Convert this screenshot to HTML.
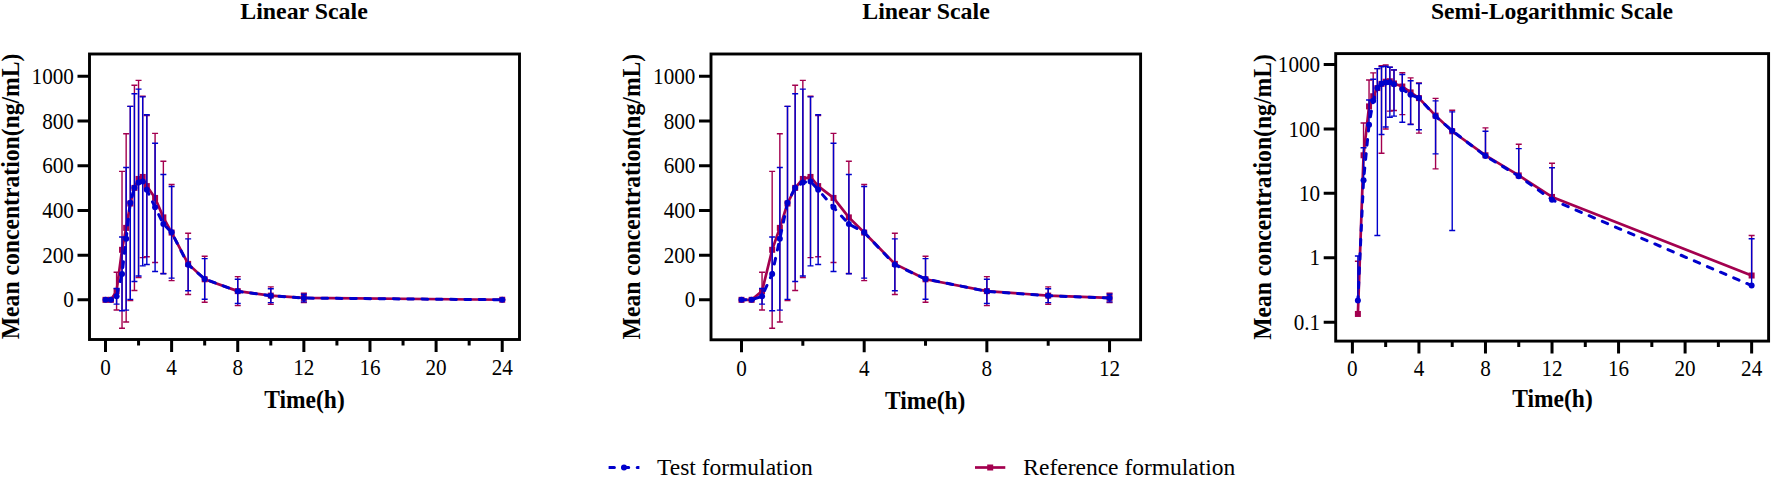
<!DOCTYPE html>
<html><head><meta charset="utf-8"><title>Mean concentration-time profiles</title>
<style>html,body{margin:0;padding:0;background:#fff}svg{display:block}text{fill:#000}</style></head>
<body><svg width="1772" height="478" viewBox="0 0 1772 478">
<rect width="1772" height="478" fill="#fff"/>
<path d="M110.95 299.65V299.99M107.95 299.65h6M107.95 299.99h6" stroke="#a3004f" stroke-width="1.4" fill="none"/>
<path d="M116.58 272.25V310.02M113.58 272.25h6M113.58 310.02h6" stroke="#a3004f" stroke-width="1.4" fill="none"/>
<path d="M122.03 171.34V328.23M119.03 171.34h6M119.03 328.23h6" stroke="#a3004f" stroke-width="1.4" fill="none"/>
<path d="M126.16 133.79V321.98M123.16 133.79h6M123.16 321.98h6" stroke="#a3004f" stroke-width="1.4" fill="none"/>
<path d="M130.30 106.41V300.63M127.30 106.41h6M127.30 300.63h6" stroke="#a3004f" stroke-width="1.4" fill="none"/>
<path d="M134.43 85.29V290.46M131.43 85.29h6M131.43 290.46h6" stroke="#a3004f" stroke-width="1.4" fill="none"/>
<path d="M138.56 80.37V277.50M135.56 80.37h6M135.56 277.50h6" stroke="#a3004f" stroke-width="1.4" fill="none"/>
<path d="M142.69 96.24V257.61M139.69 96.24h6M139.69 257.61h6" stroke="#a3004f" stroke-width="1.4" fill="none"/>
<path d="M146.82 115.46V256.71M143.82 115.46h6M143.82 256.71h6" stroke="#a3004f" stroke-width="1.4" fill="none"/>
<path d="M155.09 133.34V262.53M152.09 133.34h6M152.09 262.53h6" stroke="#a3004f" stroke-width="1.4" fill="none"/>
<path d="M163.36 161.28V273.48M160.36 161.28h6M160.36 273.48h6" stroke="#a3004f" stroke-width="1.4" fill="none"/>
<path d="M171.62 184.52V280.63M168.62 184.52h6M168.62 280.63h6" stroke="#a3004f" stroke-width="1.4" fill="none"/>
<path d="M188.15 233.25V294.49M185.15 233.25h6M185.15 294.49h6" stroke="#a3004f" stroke-width="1.4" fill="none"/>
<path d="M204.68 256.27V302.31M201.68 256.27h6M201.68 302.31h6" stroke="#a3004f" stroke-width="1.4" fill="none"/>
<path d="M237.74 276.61V305.66M234.74 276.61h6M234.74 305.66h6" stroke="#a3004f" stroke-width="1.4" fill="none"/>
<path d="M270.80 286.89V304.32M267.80 286.89h6M267.80 304.32h6" stroke="#a3004f" stroke-width="1.4" fill="none"/>
<path d="M303.86 293.30V302.46M300.86 293.30h6M300.86 302.46h6" stroke="#a3004f" stroke-width="1.4" fill="none"/>
<path d="M502.22 299.36V300.11M499.22 299.36h6M499.22 300.11h6" stroke="#a3004f" stroke-width="1.4" fill="none"/>
<polyline points="105.50,299.85 110.95,299.82 116.58,291.13 122.03,249.79 126.16,227.88 130.30,203.52 134.43,187.88 138.56,178.94 142.69,176.93 146.82,186.09 155.09,197.93 163.36,217.38 171.62,232.58 188.15,263.87 204.68,279.29 237.74,291.13 270.80,295.60 303.86,297.88 502.22,299.73" fill="none" stroke="#a3004f" stroke-width="2.7" stroke-linejoin="round"/>
<rect x="102.50" y="296.85" width="6" height="6" fill="#a3004f"/>
<rect x="107.95" y="296.82" width="6" height="6" fill="#a3004f"/>
<rect x="113.58" y="288.13" width="6" height="6" fill="#a3004f"/>
<rect x="119.03" y="246.79" width="6" height="6" fill="#a3004f"/>
<rect x="123.16" y="224.88" width="6" height="6" fill="#a3004f"/>
<rect x="127.30" y="200.52" width="6" height="6" fill="#a3004f"/>
<rect x="131.43" y="184.88" width="6" height="6" fill="#a3004f"/>
<rect x="135.56" y="175.94" width="6" height="6" fill="#a3004f"/>
<rect x="139.69" y="173.93" width="6" height="6" fill="#a3004f"/>
<rect x="143.82" y="183.09" width="6" height="6" fill="#a3004f"/>
<rect x="152.09" y="194.93" width="6" height="6" fill="#a3004f"/>
<rect x="160.36" y="214.38" width="6" height="6" fill="#a3004f"/>
<rect x="168.62" y="229.58" width="6" height="6" fill="#a3004f"/>
<rect x="185.15" y="260.87" width="6" height="6" fill="#a3004f"/>
<rect x="201.68" y="276.29" width="6" height="6" fill="#a3004f"/>
<rect x="234.74" y="288.13" width="6" height="6" fill="#a3004f"/>
<rect x="267.80" y="292.60" width="6" height="6" fill="#a3004f"/>
<rect x="300.86" y="294.88" width="6" height="6" fill="#a3004f"/>
<rect x="499.22" y="296.73" width="6" height="6" fill="#a3004f"/>
<path d="M110.95 299.61V299.99M107.95 299.61h6M107.95 299.99h6" stroke="#0000cc" stroke-width="1.4" fill="none"/>
<path d="M116.58 288.45V304.10M113.58 288.45h6M113.58 304.10h6" stroke="#0000cc" stroke-width="1.4" fill="none"/>
<path d="M122.03 237.05V310.80M119.03 237.05h6M119.03 310.80h6" stroke="#0000cc" stroke-width="1.4" fill="none"/>
<path d="M126.16 167.54V310.13M123.16 167.54h6M123.16 310.13h6" stroke="#0000cc" stroke-width="1.4" fill="none"/>
<path d="M130.30 106.35V299.35M127.30 106.35h6M127.30 299.35h6" stroke="#0000cc" stroke-width="1.4" fill="none"/>
<path d="M134.43 93.78V281.52M131.43 93.78h6M131.43 281.52h6" stroke="#0000cc" stroke-width="1.4" fill="none"/>
<path d="M138.56 89.09V275.94M135.56 89.09h6M135.56 275.94h6" stroke="#0000cc" stroke-width="1.4" fill="none"/>
<path d="M142.69 96.91V265.88M139.69 96.91h6M139.69 265.88h6" stroke="#0000cc" stroke-width="1.4" fill="none"/>
<path d="M146.82 114.79V264.54M143.82 114.79h6M143.82 264.54h6" stroke="#0000cc" stroke-width="1.4" fill="none"/>
<path d="M155.09 143.18V271.47M152.09 143.18h6M152.09 271.47h6" stroke="#0000cc" stroke-width="1.4" fill="none"/>
<path d="M163.36 174.47V273.70M160.36 174.47h6M160.36 273.70h6" stroke="#0000cc" stroke-width="1.4" fill="none"/>
<path d="M171.62 186.54V278.17M168.62 186.54h6M168.62 278.17h6" stroke="#0000cc" stroke-width="1.4" fill="none"/>
<path d="M188.15 238.83V290.69M185.15 238.83h6M185.15 290.69h6" stroke="#0000cc" stroke-width="1.4" fill="none"/>
<path d="M204.68 258.65V299.26M201.68 258.65h6M201.68 299.26h6" stroke="#0000cc" stroke-width="1.4" fill="none"/>
<path d="M237.74 279.29V303.43M234.74 279.29h6M234.74 303.43h6" stroke="#0000cc" stroke-width="1.4" fill="none"/>
<path d="M270.80 288.79V302.64M267.80 288.79h6M267.80 302.64h6" stroke="#0000cc" stroke-width="1.4" fill="none"/>
<path d="M303.86 294.27V301.87M300.86 294.27h6M300.86 301.87h6" stroke="#0000cc" stroke-width="1.4" fill="none"/>
<path d="M502.22 299.41V300.12M499.22 299.41h6M499.22 300.12h6" stroke="#0000cc" stroke-width="1.4" fill="none"/>
<polyline points="105.50,299.85 110.95,299.80 116.58,296.27 122.03,273.92 126.16,238.83 130.30,202.85 134.43,187.65 138.56,182.51 142.69,181.40 146.82,189.66 155.09,207.32 163.36,224.08 171.62,232.35 188.15,264.76 204.68,278.95 237.74,291.36 270.80,295.72 303.86,298.07 502.22,299.77" fill="none" stroke="#0000cc" stroke-width="3" stroke-dasharray="5.8 8.5" stroke-dashoffset="1.4" stroke-linecap="round" stroke-linejoin="round"/>
<circle cx="105.50" cy="299.85" r="3" fill="#0000cc"/>
<circle cx="110.95" cy="299.80" r="3" fill="#0000cc"/>
<circle cx="116.58" cy="296.27" r="3" fill="#0000cc"/>
<circle cx="122.03" cy="273.92" r="3" fill="#0000cc"/>
<circle cx="126.16" cy="238.83" r="3" fill="#0000cc"/>
<circle cx="130.30" cy="202.85" r="3" fill="#0000cc"/>
<circle cx="134.43" cy="187.65" r="3" fill="#0000cc"/>
<circle cx="138.56" cy="182.51" r="3" fill="#0000cc"/>
<circle cx="142.69" cy="181.40" r="3" fill="#0000cc"/>
<circle cx="146.82" cy="189.66" r="3" fill="#0000cc"/>
<circle cx="155.09" cy="207.32" r="3" fill="#0000cc"/>
<circle cx="163.36" cy="224.08" r="3" fill="#0000cc"/>
<circle cx="171.62" cy="232.35" r="3" fill="#0000cc"/>
<circle cx="188.15" cy="264.76" r="3" fill="#0000cc"/>
<circle cx="204.68" cy="278.95" r="3" fill="#0000cc"/>
<circle cx="237.74" cy="291.36" r="3" fill="#0000cc"/>
<circle cx="270.80" cy="295.72" r="3" fill="#0000cc"/>
<circle cx="303.86" cy="298.07" r="3" fill="#0000cc"/>
<circle cx="502.22" cy="299.77" r="3" fill="#0000cc"/>
<rect x="89.5" y="54" width="430.00" height="285.50" fill="none" stroke="#000" stroke-width="2.9"/>
<path d="M105.50 339.5v12.4M171.62 339.5v12.4M237.74 339.5v12.4M303.86 339.5v12.4M369.98 339.5v12.4M436.10 339.5v12.4M502.22 339.5v12.4M138.56 339.5v6M204.68 339.5v6M270.80 339.5v6M336.92 339.5v6M403.04 339.5v6M469.16 339.5v6M89.5 299.85h-12M89.5 255.15h-12M89.5 210.45h-12M89.5 165.75h-12M89.5 121.05h-12M89.5 76.35h-12" stroke="#000" stroke-width="3" fill="none"/>
<text transform="translate(105.50 375.20) scale(0.9 1)" font-size="23.5" text-anchor="middle" font-family="Liberation Serif, serif">0</text>
<text transform="translate(171.62 375.20) scale(0.9 1)" font-size="23.5" text-anchor="middle" font-family="Liberation Serif, serif">4</text>
<text transform="translate(237.74 375.20) scale(0.9 1)" font-size="23.5" text-anchor="middle" font-family="Liberation Serif, serif">8</text>
<text transform="translate(303.86 375.20) scale(0.9 1)" font-size="23.5" text-anchor="middle" font-family="Liberation Serif, serif">12</text>
<text transform="translate(369.98 375.20) scale(0.9 1)" font-size="23.5" text-anchor="middle" font-family="Liberation Serif, serif">16</text>
<text transform="translate(436.10 375.20) scale(0.9 1)" font-size="23.5" text-anchor="middle" font-family="Liberation Serif, serif">20</text>
<text transform="translate(502.22 375.20) scale(0.9 1)" font-size="23.5" text-anchor="middle" font-family="Liberation Serif, serif">24</text>
<text transform="translate(73.90 307.45) scale(0.9 1)" font-size="23.5" text-anchor="end" font-family="Liberation Serif, serif">0</text>
<text transform="translate(73.90 262.75) scale(0.9 1)" font-size="23.5" text-anchor="end" font-family="Liberation Serif, serif">200</text>
<text transform="translate(73.90 218.05) scale(0.9 1)" font-size="23.5" text-anchor="end" font-family="Liberation Serif, serif">400</text>
<text transform="translate(73.90 173.35) scale(0.9 1)" font-size="23.5" text-anchor="end" font-family="Liberation Serif, serif">600</text>
<text transform="translate(73.90 128.65) scale(0.9 1)" font-size="23.5" text-anchor="end" font-family="Liberation Serif, serif">800</text>
<text transform="translate(73.90 83.95) scale(0.9 1)" font-size="23.5" text-anchor="end" font-family="Liberation Serif, serif">1000</text>
<text transform="translate(304.00 18.70) scale(0.995 1)" font-size="24" text-anchor="middle" font-weight="bold" font-family="Liberation Serif, serif">Linear Scale</text>
<text transform="translate(304.50 408.40) scale(0.94 1)" font-size="25" text-anchor="middle" font-weight="bold" font-family="Liberation Serif, serif">Time(h)</text>
<path d="M751.62 299.65V299.99M748.62 299.65h6M748.62 299.99h6" stroke="#a3004f" stroke-width="1.4" fill="none"/>
<path d="M762.05 272.25V310.02M759.05 272.25h6M759.05 310.02h6" stroke="#a3004f" stroke-width="1.4" fill="none"/>
<path d="M772.17 171.34V328.23M769.17 171.34h6M769.17 328.23h6" stroke="#a3004f" stroke-width="1.4" fill="none"/>
<path d="M779.84 133.79V321.98M776.84 133.79h6M776.84 321.98h6" stroke="#a3004f" stroke-width="1.4" fill="none"/>
<path d="M787.50 106.41V300.63M784.50 106.41h6M784.50 300.63h6" stroke="#a3004f" stroke-width="1.4" fill="none"/>
<path d="M795.17 85.29V290.46M792.17 85.29h6M792.17 290.46h6" stroke="#a3004f" stroke-width="1.4" fill="none"/>
<path d="M802.84 80.37V277.50M799.84 80.37h6M799.84 277.50h6" stroke="#a3004f" stroke-width="1.4" fill="none"/>
<path d="M810.51 96.24V257.61M807.51 96.24h6M807.51 257.61h6" stroke="#a3004f" stroke-width="1.4" fill="none"/>
<path d="M818.17 115.46V256.71M815.17 115.46h6M815.17 256.71h6" stroke="#a3004f" stroke-width="1.4" fill="none"/>
<path d="M833.51 133.34V262.53M830.51 133.34h6M830.51 262.53h6" stroke="#a3004f" stroke-width="1.4" fill="none"/>
<path d="M848.85 161.28V273.48M845.85 161.28h6M845.85 273.48h6" stroke="#a3004f" stroke-width="1.4" fill="none"/>
<path d="M864.18 184.52V280.63M861.18 184.52h6M861.18 280.63h6" stroke="#a3004f" stroke-width="1.4" fill="none"/>
<path d="M894.85 233.25V294.49M891.85 233.25h6M891.85 294.49h6" stroke="#a3004f" stroke-width="1.4" fill="none"/>
<path d="M925.52 256.27V302.31M922.52 256.27h6M922.52 302.31h6" stroke="#a3004f" stroke-width="1.4" fill="none"/>
<path d="M986.86 276.61V305.66M983.86 276.61h6M983.86 305.66h6" stroke="#a3004f" stroke-width="1.4" fill="none"/>
<path d="M1048.20 286.89V304.32M1045.20 286.89h6M1045.20 304.32h6" stroke="#a3004f" stroke-width="1.4" fill="none"/>
<path d="M1109.54 293.30V302.46M1106.54 293.30h6M1106.54 302.46h6" stroke="#a3004f" stroke-width="1.4" fill="none"/>
<polyline points="741.50,299.85 751.62,299.82 762.05,291.13 772.17,249.79 779.84,227.88 787.50,203.52 795.17,187.88 802.84,178.94 810.51,176.93 818.17,186.09 833.51,197.93 848.85,217.38 864.18,232.58 894.85,263.87 925.52,279.29 986.86,291.13 1048.20,295.60 1109.54,297.88" fill="none" stroke="#a3004f" stroke-width="2.7" stroke-linejoin="round"/>
<rect x="738.50" y="296.85" width="6" height="6" fill="#a3004f"/>
<rect x="748.62" y="296.82" width="6" height="6" fill="#a3004f"/>
<rect x="759.05" y="288.13" width="6" height="6" fill="#a3004f"/>
<rect x="769.17" y="246.79" width="6" height="6" fill="#a3004f"/>
<rect x="776.84" y="224.88" width="6" height="6" fill="#a3004f"/>
<rect x="784.50" y="200.52" width="6" height="6" fill="#a3004f"/>
<rect x="792.17" y="184.88" width="6" height="6" fill="#a3004f"/>
<rect x="799.84" y="175.94" width="6" height="6" fill="#a3004f"/>
<rect x="807.51" y="173.93" width="6" height="6" fill="#a3004f"/>
<rect x="815.17" y="183.09" width="6" height="6" fill="#a3004f"/>
<rect x="830.51" y="194.93" width="6" height="6" fill="#a3004f"/>
<rect x="845.85" y="214.38" width="6" height="6" fill="#a3004f"/>
<rect x="861.18" y="229.58" width="6" height="6" fill="#a3004f"/>
<rect x="891.85" y="260.87" width="6" height="6" fill="#a3004f"/>
<rect x="922.52" y="276.29" width="6" height="6" fill="#a3004f"/>
<rect x="983.86" y="288.13" width="6" height="6" fill="#a3004f"/>
<rect x="1045.20" y="292.60" width="6" height="6" fill="#a3004f"/>
<rect x="1106.54" y="294.88" width="6" height="6" fill="#a3004f"/>
<path d="M751.62 299.61V299.99M748.62 299.61h6M748.62 299.99h6" stroke="#0000cc" stroke-width="1.4" fill="none"/>
<path d="M762.05 288.45V304.10M759.05 288.45h6M759.05 304.10h6" stroke="#0000cc" stroke-width="1.4" fill="none"/>
<path d="M772.17 237.05V310.80M769.17 237.05h6M769.17 310.80h6" stroke="#0000cc" stroke-width="1.4" fill="none"/>
<path d="M779.84 167.54V310.13M776.84 167.54h6M776.84 310.13h6" stroke="#0000cc" stroke-width="1.4" fill="none"/>
<path d="M787.50 106.35V299.35M784.50 106.35h6M784.50 299.35h6" stroke="#0000cc" stroke-width="1.4" fill="none"/>
<path d="M795.17 93.78V281.52M792.17 93.78h6M792.17 281.52h6" stroke="#0000cc" stroke-width="1.4" fill="none"/>
<path d="M802.84 89.09V275.94M799.84 89.09h6M799.84 275.94h6" stroke="#0000cc" stroke-width="1.4" fill="none"/>
<path d="M810.51 96.91V265.88M807.51 96.91h6M807.51 265.88h6" stroke="#0000cc" stroke-width="1.4" fill="none"/>
<path d="M818.17 114.79V264.54M815.17 114.79h6M815.17 264.54h6" stroke="#0000cc" stroke-width="1.4" fill="none"/>
<path d="M833.51 143.18V271.47M830.51 143.18h6M830.51 271.47h6" stroke="#0000cc" stroke-width="1.4" fill="none"/>
<path d="M848.85 174.47V273.70M845.85 174.47h6M845.85 273.70h6" stroke="#0000cc" stroke-width="1.4" fill="none"/>
<path d="M864.18 186.54V278.17M861.18 186.54h6M861.18 278.17h6" stroke="#0000cc" stroke-width="1.4" fill="none"/>
<path d="M894.85 238.83V290.69M891.85 238.83h6M891.85 290.69h6" stroke="#0000cc" stroke-width="1.4" fill="none"/>
<path d="M925.52 258.65V299.26M922.52 258.65h6M922.52 299.26h6" stroke="#0000cc" stroke-width="1.4" fill="none"/>
<path d="M986.86 279.29V303.43M983.86 279.29h6M983.86 303.43h6" stroke="#0000cc" stroke-width="1.4" fill="none"/>
<path d="M1048.20 288.79V302.64M1045.20 288.79h6M1045.20 302.64h6" stroke="#0000cc" stroke-width="1.4" fill="none"/>
<path d="M1109.54 294.27V301.87M1106.54 294.27h6M1106.54 301.87h6" stroke="#0000cc" stroke-width="1.4" fill="none"/>
<polyline points="741.50,299.85 751.62,299.80 762.05,296.27 772.17,273.92 779.84,238.83 787.50,202.85 795.17,187.65 802.84,182.51 810.51,181.40 818.17,189.66 833.51,207.32 848.85,224.08 864.18,232.35 894.85,264.76 925.52,278.95 986.86,291.36 1048.20,295.72 1109.54,298.07" fill="none" stroke="#0000cc" stroke-width="3" stroke-dasharray="5.8 8.5" stroke-dashoffset="1.4" stroke-linecap="round" stroke-linejoin="round"/>
<circle cx="741.50" cy="299.85" r="3" fill="#0000cc"/>
<circle cx="751.62" cy="299.80" r="3" fill="#0000cc"/>
<circle cx="762.05" cy="296.27" r="3" fill="#0000cc"/>
<circle cx="772.17" cy="273.92" r="3" fill="#0000cc"/>
<circle cx="779.84" cy="238.83" r="3" fill="#0000cc"/>
<circle cx="787.50" cy="202.85" r="3" fill="#0000cc"/>
<circle cx="795.17" cy="187.65" r="3" fill="#0000cc"/>
<circle cx="802.84" cy="182.51" r="3" fill="#0000cc"/>
<circle cx="810.51" cy="181.40" r="3" fill="#0000cc"/>
<circle cx="818.17" cy="189.66" r="3" fill="#0000cc"/>
<circle cx="833.51" cy="207.32" r="3" fill="#0000cc"/>
<circle cx="848.85" cy="224.08" r="3" fill="#0000cc"/>
<circle cx="864.18" cy="232.35" r="3" fill="#0000cc"/>
<circle cx="894.85" cy="264.76" r="3" fill="#0000cc"/>
<circle cx="925.52" cy="278.95" r="3" fill="#0000cc"/>
<circle cx="986.86" cy="291.36" r="3" fill="#0000cc"/>
<circle cx="1048.20" cy="295.72" r="3" fill="#0000cc"/>
<circle cx="1109.54" cy="298.07" r="3" fill="#0000cc"/>
<rect x="711" y="54" width="429.60" height="285.80" fill="none" stroke="#000" stroke-width="2.9"/>
<path d="M741.50 339.8v12.4M864.18 339.8v12.4M986.86 339.8v12.4M1109.54 339.8v12.4M802.84 339.8v6M925.52 339.8v6M1048.20 339.8v6M711 299.85h-12M711 255.15h-12M711 210.45h-12M711 165.75h-12M711 121.05h-12M711 76.35h-12" stroke="#000" stroke-width="3" fill="none"/>
<text transform="translate(741.50 375.70) scale(0.9 1)" font-size="23.5" text-anchor="middle" font-family="Liberation Serif, serif">0</text>
<text transform="translate(864.18 375.70) scale(0.9 1)" font-size="23.5" text-anchor="middle" font-family="Liberation Serif, serif">4</text>
<text transform="translate(986.86 375.70) scale(0.9 1)" font-size="23.5" text-anchor="middle" font-family="Liberation Serif, serif">8</text>
<text transform="translate(1109.54 375.70) scale(0.9 1)" font-size="23.5" text-anchor="middle" font-family="Liberation Serif, serif">12</text>
<text transform="translate(695.40 307.45) scale(0.9 1)" font-size="23.5" text-anchor="end" font-family="Liberation Serif, serif">0</text>
<text transform="translate(695.40 262.75) scale(0.9 1)" font-size="23.5" text-anchor="end" font-family="Liberation Serif, serif">200</text>
<text transform="translate(695.40 218.05) scale(0.9 1)" font-size="23.5" text-anchor="end" font-family="Liberation Serif, serif">400</text>
<text transform="translate(695.40 173.35) scale(0.9 1)" font-size="23.5" text-anchor="end" font-family="Liberation Serif, serif">600</text>
<text transform="translate(695.40 128.65) scale(0.9 1)" font-size="23.5" text-anchor="end" font-family="Liberation Serif, serif">800</text>
<text transform="translate(695.40 83.95) scale(0.9 1)" font-size="23.5" text-anchor="end" font-family="Liberation Serif, serif">1000</text>
<text transform="translate(926.00 18.70) scale(0.995 1)" font-size="24" text-anchor="middle" font-weight="bold" font-family="Liberation Serif, serif">Linear Scale</text>
<text transform="translate(925.20 409.10) scale(0.94 1)" font-size="25" text-anchor="middle" font-weight="bold" font-family="Liberation Serif, serif">Time(h)</text>
<path d="M1357.89 261.20V313.96M1354.89 261.20h6" stroke="#a3004f" stroke-width="1.4" fill="none"/>
<path d="M1363.55 123.05V155.29M1360.55 123.05h6" stroke="#a3004f" stroke-width="1.4" fill="none"/>
<path d="M1369.04 80.03V106.39M1366.04 80.03h6" stroke="#a3004f" stroke-width="1.4" fill="none"/>
<path d="M1373.19 72.86V96.24M1370.19 72.86h6" stroke="#a3004f" stroke-width="1.4" fill="none"/>
<path d="M1377.35 68.59V88.09M1374.35 68.59h6" stroke="#a3004f" stroke-width="1.4" fill="none"/>
<path d="M1381.51 65.69V153.21M1378.51 65.69h6M1378.51 153.21h6" stroke="#a3004f" stroke-width="1.4" fill="none"/>
<path d="M1385.67 65.06V128.95M1382.67 65.06h6M1382.67 128.95h6" stroke="#a3004f" stroke-width="1.4" fill="none"/>
<path d="M1389.83 67.16V111.15M1386.83 67.16h6M1386.83 111.15h6" stroke="#a3004f" stroke-width="1.4" fill="none"/>
<path d="M1393.99 69.93V110.56M1390.99 69.93h6M1390.99 110.56h6" stroke="#a3004f" stroke-width="1.4" fill="none"/>
<path d="M1402.31 72.78V114.61M1399.31 72.78h6M1399.31 114.61h6" stroke="#a3004f" stroke-width="1.4" fill="none"/>
<path d="M1410.62 77.92V124.32M1407.62 77.92h6M1407.62 124.32h6" stroke="#a3004f" stroke-width="1.4" fill="none"/>
<path d="M1418.94 83.06V133.17M1415.94 83.06h6M1415.94 133.17h6" stroke="#a3004f" stroke-width="1.4" fill="none"/>
<path d="M1435.58 98.41V168.86M1432.58 98.41h6M1432.58 168.86h6" stroke="#a3004f" stroke-width="1.4" fill="none"/>
<path d="M1452.21 110.27V131.28M1449.21 110.27h6" stroke="#a3004f" stroke-width="1.4" fill="none"/>
<path d="M1485.48 127.85V155.29M1482.48 127.85h6" stroke="#a3004f" stroke-width="1.4" fill="none"/>
<path d="M1518.75 144.19V175.40M1515.75 144.19h6" stroke="#a3004f" stroke-width="1.4" fill="none"/>
<path d="M1552.02 163.28V196.93M1549.02 163.28h6" stroke="#a3004f" stroke-width="1.4" fill="none"/>
<path d="M1751.64 235.57V275.51M1748.64 235.57h6" stroke="#a3004f" stroke-width="1.4" fill="none"/>
<polyline points="1357.89,313.96 1363.55,155.29 1369.04,106.39 1373.19,96.24 1377.35,88.09 1381.51,83.88 1385.67,81.73 1389.83,81.27 1393.99,83.44 1402.31,86.51 1410.62,92.43 1418.94,98.13 1435.58,115.63 1452.21,131.28 1485.48,155.29 1518.75,175.40 1552.02,196.93 1751.64,275.51" fill="none" stroke="#a3004f" stroke-width="2.7" stroke-linejoin="round"/>
<rect x="1354.89" y="310.96" width="6" height="6" fill="#a3004f"/>
<rect x="1360.55" y="152.29" width="6" height="6" fill="#a3004f"/>
<rect x="1366.04" y="103.39" width="6" height="6" fill="#a3004f"/>
<rect x="1370.19" y="93.24" width="6" height="6" fill="#a3004f"/>
<rect x="1374.35" y="85.09" width="6" height="6" fill="#a3004f"/>
<rect x="1378.51" y="80.88" width="6" height="6" fill="#a3004f"/>
<rect x="1382.67" y="78.73" width="6" height="6" fill="#a3004f"/>
<rect x="1386.83" y="78.27" width="6" height="6" fill="#a3004f"/>
<rect x="1390.99" y="80.44" width="6" height="6" fill="#a3004f"/>
<rect x="1399.31" y="83.51" width="6" height="6" fill="#a3004f"/>
<rect x="1407.62" y="89.43" width="6" height="6" fill="#a3004f"/>
<rect x="1415.94" y="95.13" width="6" height="6" fill="#a3004f"/>
<rect x="1432.58" y="112.63" width="6" height="6" fill="#a3004f"/>
<rect x="1449.21" y="128.28" width="6" height="6" fill="#a3004f"/>
<rect x="1482.48" y="152.29" width="6" height="6" fill="#a3004f"/>
<rect x="1515.75" y="172.40" width="6" height="6" fill="#a3004f"/>
<rect x="1549.02" y="193.93" width="6" height="6" fill="#a3004f"/>
<rect x="1748.64" y="272.51" width="6" height="6" fill="#a3004f"/>
<path d="M1357.89 255.96V300.61M1354.89 255.96h6" stroke="#0000cc" stroke-width="1.4" fill="none"/>
<path d="M1363.55 147.78V180.20M1360.55 147.78h6" stroke="#0000cc" stroke-width="1.4" fill="none"/>
<path d="M1369.04 100.05V124.80M1366.04 100.05h6" stroke="#0000cc" stroke-width="1.4" fill="none"/>
<path d="M1373.19 79.21V100.86M1370.19 79.21h6" stroke="#0000cc" stroke-width="1.4" fill="none"/>
<path d="M1377.35 68.58V235.44M1374.35 68.58h6M1374.35 235.44h6" stroke="#0000cc" stroke-width="1.4" fill="none"/>
<path d="M1381.51 66.82V134.50M1378.51 66.82h6M1378.51 134.50h6" stroke="#0000cc" stroke-width="1.4" fill="none"/>
<path d="M1385.67 66.19V127.06M1382.67 66.19h6M1382.67 127.06h6" stroke="#0000cc" stroke-width="1.4" fill="none"/>
<path d="M1389.83 67.25V117.24M1386.83 67.25h6M1386.83 117.24h6" stroke="#0000cc" stroke-width="1.4" fill="none"/>
<path d="M1393.99 69.83V116.16M1390.99 69.83h6M1390.99 116.16h6" stroke="#0000cc" stroke-width="1.4" fill="none"/>
<path d="M1402.31 74.49V122.27M1399.31 74.49h6M1399.31 122.27h6" stroke="#0000cc" stroke-width="1.4" fill="none"/>
<path d="M1410.62 80.72V124.56M1407.62 80.72h6M1407.62 124.56h6" stroke="#0000cc" stroke-width="1.4" fill="none"/>
<path d="M1418.94 83.55V129.80M1415.94 83.55h6M1415.94 129.80h6" stroke="#0000cc" stroke-width="1.4" fill="none"/>
<path d="M1435.58 100.86V153.89M1432.58 100.86h6M1432.58 153.89h6" stroke="#0000cc" stroke-width="1.4" fill="none"/>
<path d="M1452.21 111.84V230.49M1449.21 111.84h6M1449.21 230.49h6" stroke="#0000cc" stroke-width="1.4" fill="none"/>
<path d="M1485.48 131.28V156.01M1482.48 131.28h6" stroke="#0000cc" stroke-width="1.4" fill="none"/>
<path d="M1518.75 148.62V176.14M1515.75 148.62h6" stroke="#0000cc" stroke-width="1.4" fill="none"/>
<path d="M1552.02 167.78V199.77M1549.02 167.78h6" stroke="#0000cc" stroke-width="1.4" fill="none"/>
<path d="M1751.64 238.79V285.56M1748.64 238.79h6" stroke="#0000cc" stroke-width="1.4" fill="none"/>
<polyline points="1357.89,300.61 1363.55,180.20 1369.04,124.80 1373.19,100.86 1377.35,87.90 1381.51,83.82 1385.67,82.57 1389.83,82.31 1393.99,84.33 1402.31,89.22 1410.62,94.81 1418.94,98.04 1435.58,116.33 1452.21,130.83 1485.48,156.01 1518.75,176.14 1552.02,199.77 1751.64,285.56" fill="none" stroke="#0000cc" stroke-width="3" stroke-dasharray="5.8 8.5" stroke-dashoffset="1.6" stroke-linecap="round" stroke-linejoin="round"/>
<circle cx="1357.89" cy="300.61" r="3" fill="#0000cc"/>
<circle cx="1363.55" cy="180.20" r="3" fill="#0000cc"/>
<circle cx="1369.04" cy="124.80" r="3" fill="#0000cc"/>
<circle cx="1373.19" cy="100.86" r="3" fill="#0000cc"/>
<circle cx="1377.35" cy="87.90" r="3" fill="#0000cc"/>
<circle cx="1381.51" cy="83.82" r="3" fill="#0000cc"/>
<circle cx="1385.67" cy="82.57" r="3" fill="#0000cc"/>
<circle cx="1389.83" cy="82.31" r="3" fill="#0000cc"/>
<circle cx="1393.99" cy="84.33" r="3" fill="#0000cc"/>
<circle cx="1402.31" cy="89.22" r="3" fill="#0000cc"/>
<circle cx="1410.62" cy="94.81" r="3" fill="#0000cc"/>
<circle cx="1418.94" cy="98.04" r="3" fill="#0000cc"/>
<circle cx="1435.58" cy="116.33" r="3" fill="#0000cc"/>
<circle cx="1452.21" cy="130.83" r="3" fill="#0000cc"/>
<circle cx="1485.48" cy="156.01" r="3" fill="#0000cc"/>
<circle cx="1518.75" cy="176.14" r="3" fill="#0000cc"/>
<circle cx="1552.02" cy="199.77" r="3" fill="#0000cc"/>
<circle cx="1751.64" cy="285.56" r="3" fill="#0000cc"/>
<rect x="1335.7" y="53.6" width="432.90" height="287.50" fill="none" stroke="#000" stroke-width="2.9"/>
<path d="M1352.40 341.1v12.4M1418.94 341.1v12.4M1485.48 341.1v12.4M1552.02 341.1v12.4M1618.56 341.1v12.4M1685.10 341.1v12.4M1751.64 341.1v12.4M1385.67 341.1v6M1452.21 341.1v6M1518.75 341.1v6M1585.29 341.1v6M1651.83 341.1v6M1718.37 341.1v6M1335.7 322.15h-12M1335.7 257.75h-12M1335.7 193.35h-12M1335.7 128.95h-12M1335.7 64.55h-12" stroke="#000" stroke-width="3" fill="none"/>
<text transform="translate(1352.40 376.30) scale(0.9 1)" font-size="23.5" text-anchor="middle" font-family="Liberation Serif, serif">0</text>
<text transform="translate(1418.94 376.30) scale(0.9 1)" font-size="23.5" text-anchor="middle" font-family="Liberation Serif, serif">4</text>
<text transform="translate(1485.48 376.30) scale(0.9 1)" font-size="23.5" text-anchor="middle" font-family="Liberation Serif, serif">8</text>
<text transform="translate(1552.02 376.30) scale(0.9 1)" font-size="23.5" text-anchor="middle" font-family="Liberation Serif, serif">12</text>
<text transform="translate(1618.56 376.30) scale(0.9 1)" font-size="23.5" text-anchor="middle" font-family="Liberation Serif, serif">16</text>
<text transform="translate(1685.10 376.30) scale(0.9 1)" font-size="23.5" text-anchor="middle" font-family="Liberation Serif, serif">20</text>
<text transform="translate(1751.64 376.30) scale(0.9 1)" font-size="23.5" text-anchor="middle" font-family="Liberation Serif, serif">24</text>
<text transform="translate(1320.10 329.75) scale(0.9 1)" font-size="23.5" text-anchor="end" font-family="Liberation Serif, serif">0.1</text>
<text transform="translate(1320.10 265.35) scale(0.9 1)" font-size="23.5" text-anchor="end" font-family="Liberation Serif, serif">1</text>
<text transform="translate(1320.10 200.95) scale(0.9 1)" font-size="23.5" text-anchor="end" font-family="Liberation Serif, serif">10</text>
<text transform="translate(1320.10 136.55) scale(0.9 1)" font-size="23.5" text-anchor="end" font-family="Liberation Serif, serif">100</text>
<text transform="translate(1320.10 72.15) scale(0.9 1)" font-size="23.5" text-anchor="end" font-family="Liberation Serif, serif">1000</text>
<text transform="translate(1552.00 18.70) scale(0.985 1)" font-size="24" text-anchor="middle" font-weight="bold" font-family="Liberation Serif, serif">Semi-Logarithmic Scale</text>
<text transform="translate(1552.50 407.40) scale(0.94 1)" font-size="25" text-anchor="middle" font-weight="bold" font-family="Liberation Serif, serif">Time(h)</text>
<text transform="translate(18.60 196.40) rotate(-90) scale(0.946 1)" font-size="25.0" text-anchor="middle" font-weight="bold" font-family="Liberation Serif, serif">Mean concentration(ng/mL)</text>
<text transform="translate(640.40 196.60) rotate(-90) scale(0.946 1)" font-size="25.0" text-anchor="middle" font-weight="bold" font-family="Liberation Serif, serif">Mean concentration(ng/mL)</text>
<text transform="translate(1270.70 197.00) rotate(-90) scale(0.946 1)" font-size="25.0" text-anchor="middle" font-weight="bold" font-family="Liberation Serif, serif">Mean concentration(ng/mL)</text>
<clipPath id="lc"><rect x="608.6" y="460" width="30.8" height="16"/></clipPath><path clip-path="url(#lc)" d="M608.6 467.6H645" stroke="#0000cc" stroke-width="3" stroke-dasharray="5.8 8.5" stroke-linecap="round" fill="none"/><circle cx="624" cy="467.6" r="3" fill="#0000cc"/>
<text x="657" y="475.3" font-size="23.5" font-family="Liberation Serif, serif">Test formulation</text>
<path d="M975 467.5H1005.3"  stroke="#a3004f" stroke-width="2.7" fill="none"/><rect x="987.2" y="464.5" width="6" height="6" fill="#a3004f"/>
<text x="1023.3" y="475.1" font-size="23.5" font-family="Liberation Serif, serif">Reference formulation</text>
</svg></body></html>
